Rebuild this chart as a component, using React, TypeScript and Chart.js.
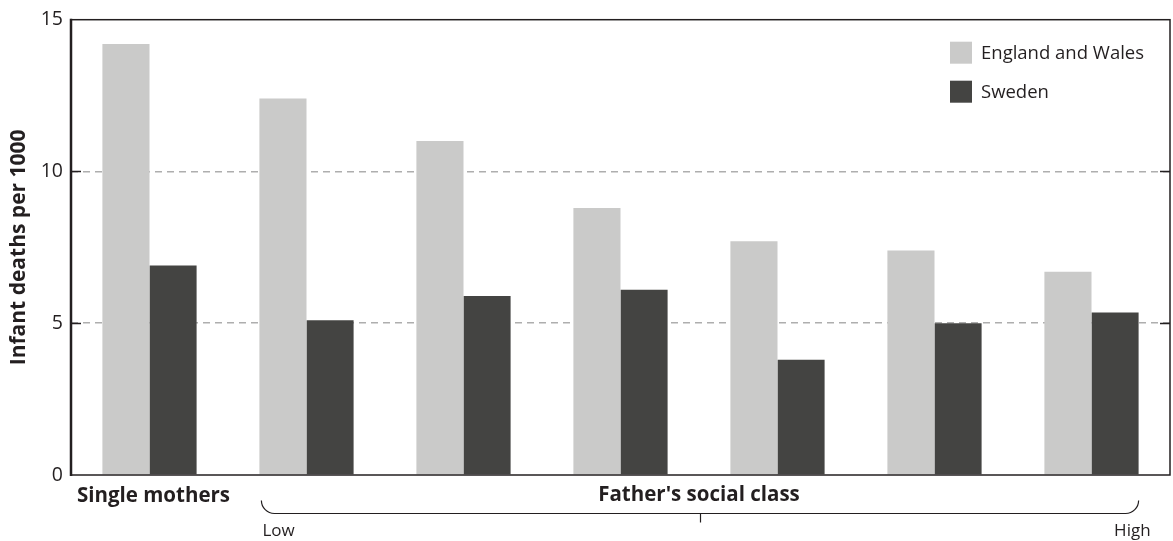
import React, { useEffect, useRef } from "react";
import { Chart, registerables } from "chart.js";

Chart.register(...registerables);

const categories = ["Single mothers", "Low", "", "", "", "", "High"];
const englandWales = [14.2, 12.4, 11.0, 8.8, 7.7, 7.4, 6.7];
const sweden = [6.9, 5.1, 5.9, 6.1, 3.8, 5.0, 5.35];
const seriesNames = ["England and Wales", "Sweden"];
const seriesColors = ["#cacac9", "#444442"];
const yTicks = [0, 5, 10, 15];
const groupTitle = "Father's social class";
const yTitle = "Infant deaths per 1000";

const FONT = "'Open Sans', 'DejaVu Sans', sans-serif";
const INK = "#231f20";

const decorPlugin = {
  id: "decor",
  afterDatasetsDraw(chart: any) {
    const ctx = chart.ctx as CanvasRenderingContext2D;
    const { left, right, top, bottom } = chart.chartArea;
    const yScale = chart.scales.y;
    const xScale = chart.scales.x;
    ctx.save();

    // frame
    ctx.strokeStyle = INK;
    ctx.lineWidth = 1.5;
    ctx.strokeRect(left, top, right - left, bottom - top);
    ctx.lineWidth = 2.5;
    ctx.beginPath();
    ctx.moveTo(left, top - 1);
    ctx.lineTo(left, bottom + 1);
    ctx.stroke();

    // inner ticks
    ctx.lineWidth = 1.5;
    yTicks.forEach((v) => {
      if (v === yTicks[0] || v === yTicks[yTicks.length - 1]) return;
      const y = Math.round(yScale.getPixelForValue(v)) + 0.5;
      ctx.beginPath();
      ctx.moveTo(left, y);
      ctx.lineTo(left + 10, y);
      ctx.moveTo(right - 10, y);
      ctx.lineTo(right, y);
      ctx.stroke();
    });

    // legend
    chart.data.datasets.forEach((ds: any, i: number) => {
      const sx = right - 220;
      const sy = top + 22 + i * 39;
      ctx.fillStyle = ds.backgroundColor;
      ctx.fillRect(sx, sy, 22, 22);
      ctx.fillStyle = INK;
      ctx.font = `18.5px ${FONT}`;
      ctx.textAlign = "left";
      ctx.textBaseline = "middle";
      ctx.fillText(ds.label, sx + 31, sy + 12);
    });

    // bottom labels
    const meta0 = chart.getDatasetMeta(0);
    const meta1 = chart.getDatasetMeta(1);
    const n = categories.length;
    ctx.fillStyle = INK;
    ctx.font = `bold 20.5px ${FONT}`;
    ctx.textAlign = "center";
    ctx.textBaseline = "middle";
    ctx.fillText(categories[0], xScale.getPixelForValue(0) + 4, bottom + 21);
    const midX = (xScale.getPixelForValue(1) + xScale.getPixelForValue(n - 1)) / 2;
    ctx.fillText(groupTitle, midX, bottom + 20);

    const b1 = meta0.data[1] as any;
    const b2 = meta1.data[n - 1] as any;
    const x1 = b1.x - b1.width / 2 + 2;
    const x2 = b2.x + b2.width / 2;
    const yLine = bottom + 38.5;
    const r = 13;
    ctx.strokeStyle = INK;
    ctx.lineWidth = 1.2;
    ctx.beginPath();
    ctx.moveTo(x1, yLine - r);
    ctx.arcTo(x1, yLine, x1 + r, yLine, r);
    ctx.lineTo(x2 - r, yLine);
    ctx.arcTo(x2, yLine, x2, yLine - r, r);
    ctx.stroke();
    const xm = Math.round((x1 + x2) / 2) + 0.5;
    ctx.beginPath();
    ctx.moveTo(xm, yLine);
    ctx.lineTo(xm, yLine + 9);
    ctx.stroke();

    ctx.font = `17px ${FONT}`;
    ctx.textAlign = "left";
    ctx.fillText(categories[1], x1 + 1, bottom + 56);
    ctx.textAlign = "right";
    ctx.fillText(categories[n - 1], x2 + 12, bottom + 56);
    ctx.restore();
  },
};

export default function App() {
  const ref = useRef<HTMLCanvasElement | null>(null);
  useEffect(() => {
    document.body.style.margin = "0";
    const canvas = ref.current!;
    const chart = new Chart(canvas, {
      type: "bar",
      data: {
        labels: categories,
        datasets: [
          { label: seriesNames[0], data: englandWales, backgroundColor: seriesColors[0], borderWidth: 0 },
          { label: seriesNames[1], data: sweden, backgroundColor: seriesColors[1], borderWidth: 0 },
        ],
      },
      options: {
        animation: false,
        responsive: false,
        devicePixelRatio: 1,
        layout: { padding: { top: 15, right: 3, bottom: 66, left: 0 } },
        plugins: { legend: { display: false }, tooltip: { enabled: false } },
        datasets: { bar: { categoryPercentage: 0.6, barPercentage: 1.0 } },
        scales: {
          x: { display: false },
          y: {
            min: 0,
            max: 15,
            afterFit(scale: any) {
              scale.width = 71;
            },
            afterBuildTicks(scale: any) {
              scale.ticks = yTicks.map((v) => ({ value: v }));
            },
            ticks: {
              font: { size: 19.5, family: FONT },
              color: INK,
              padding: 8,
            },
            grid: {
              drawTicks: false,
              lineWidth: 1.5,
              color: (c: any) =>
                c.tick && (c.tick.value === yTicks[0] || c.tick.value === yTicks[yTicks.length - 1])
                  ? "rgba(0,0,0,0)"
                  : "#aeaeae",
            },
            border: { display: false, dash: [7, 5] },
            title: {
              display: true,
              text: yTitle,
              color: INK,
              font: { size: 21, weight: "bold", family: FONT },
              padding: { top: 6, bottom: 0 },
            },
          },
        },
      },
      plugins: [decorPlugin],
    } as any);
    return () => chart.destroy();
  }, []);
  return (
    <div style={{ position: "absolute", left: 0, top: 0, width: 1173, height: 541 }}>
      <canvas ref={ref} width={1173} height={541} style={{ width: 1173, height: 541 }} />
    </div>
  );
}
